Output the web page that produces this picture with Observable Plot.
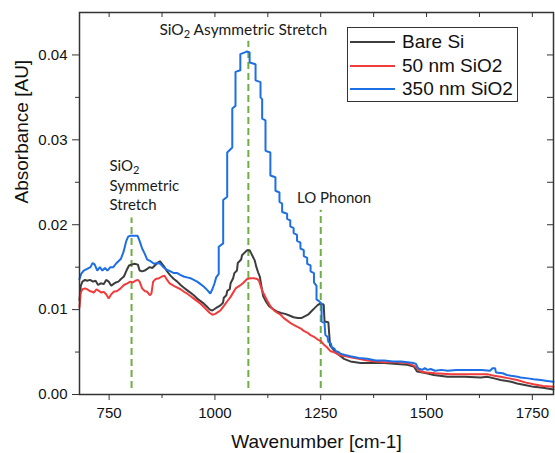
<!DOCTYPE html>
<html>
<head>
<meta charset="utf-8">
<script src="https://cdn.jsdelivr.net/npm/d3@7"></script>
<script src="https://cdn.jsdelivr.net/npm/@observablehq/plot@0.6"></script>
<style>
  html, body { margin: 0; padding: 0; background: #fff; }
  #wrap { position: relative; width: 555px; height: 453px; }
  #legend {
    position: absolute; left: 347px; top: 27px; width: 169px; height: 73px;
    border: 1.5px solid #333; background: #fff;
    font-family: "Liberation Sans", Arial, sans-serif; font-size: 19px; color: #111;
  }
  .row { position: absolute; left: 0; height: 24px; display: flex; align-items: center; }
  .sw { width: 45px; margin-left: 2px; margin-right: 7px; height: 0; border-top: 2px solid; }
</style>
</head>
<body>
<div id="wrap"><div id="legend"></div></div>
<script>
// ---- Series names and colours ----
const seriesNames = ["Bare Si", "50 nm SiO2", "350 nm SiO2"];
const seriesColors = ["#3d3d3d", "#f03c3c", "#1d6fe6"];

// ---- Spectra: [wavenumber (cm-1), absorbance (AU)] ----
const bareSi = [
  [680,0.0111],[683,0.0128],[687,0.0133],[693,0.0135],[698,0.0134],[705,0.0135],[712,0.0133],
  [718,0.0134],[724,0.0129],[730,0.0131],[737,0.0130],[743,0.0135],[749,0.0133],[755,0.0128],
  [760,0.0130],[766,0.0132],[772,0.0133],[778,0.0136],[785,0.0139],[791,0.0146],[797,0.0152],
  [803,0.0153],[810,0.0154],[818,0.0153],[822,0.0146],[828,0.0145],[834,0.0146],[840,0.0148],
  [846,0.0150],[852,0.0149],[858,0.0152],[864,0.0155],[870,0.0157],[875,0.0154],[881,0.0150],
  [887,0.0145],[895,0.0140],[903,0.0136],[911,0.0133],[919,0.0129],[926,0.0126],[934,0.0123],
  [942,0.0120],[950,0.0117],[958,0.0113],[966,0.0110],[974,0.0107],[982,0.0103],[988,0.0100],
  [994,0.0099],[1000,0.0101],[1006,0.0103],[1013,0.0105],[1019,0.0108],[1021,0.0114],[1027,0.0117],
  [1029,0.0122],[1035,0.0124],[1037,0.0131],[1043,0.0137],[1046,0.0143],[1052,0.0146],[1054,0.0155],
  [1062,0.0159],[1064,0.0164],[1072,0.0168],[1076,0.0170],[1082,0.0170],[1086,0.0166],[1090,0.0162],
  [1094,0.0158],[1098,0.0150],[1102,0.0144],[1106,0.0139],[1110,0.0127],[1114,0.0116],[1120,0.0110],
  [1128,0.0104],[1136,0.0101],[1146,0.0098],[1156,0.0096],[1166,0.0095],[1176,0.0093],[1186,0.0091],
  [1196,0.0090],[1204,0.0090],[1212,0.0092],[1220,0.0094],[1228,0.0098],[1236,0.0102],[1242,0.0105],
  [1248,0.0107],[1257,0.0106],[1259,0.0086],[1268,0.0085],[1272,0.0058],[1280,0.0053],[1289,0.0048],
  [1297,0.0045],[1305,0.0042],[1320,0.0039],[1344,0.0037],[1370,0.0037],[1400,0.0037],[1430,0.0036],
  [1454,0.0035],[1470,0.0033],[1478,0.0027],[1500,0.0025],[1517,0.0023],[1550,0.0021],[1590,0.0021],
  [1628,0.0020],[1643,0.0021],[1660,0.0019],[1675,0.0017],[1700,0.0015],[1714,0.0013],[1735,0.0011],
  [1753,0.0009],[1775,0.0008],[1800,0.0006]
];
const sio2_50nm = [
  [680,0.0103],[683,0.0120],[687,0.0124],[693,0.0125],[698,0.0124],[704,0.0122],[710,0.0121],
  [714,0.0120],[720,0.0124],[726,0.0122],[732,0.0120],[737,0.0121],[743,0.0118],[749,0.0113],
  [755,0.0118],[761,0.0121],[769,0.0122],[777,0.0125],[785,0.0129],[793,0.0131],[800,0.0133],
  [806,0.0132],[812,0.0134],[818,0.0135],[822,0.0133],[828,0.0125],[834,0.0122],[840,0.0121],
  [846,0.0117],[850,0.0119],[854,0.0133],[860,0.0136],[868,0.0137],[875,0.0139],[881,0.0140],
  [887,0.0135],[893,0.0131],[903,0.0128],[911,0.0126],[919,0.0124],[927,0.0121],[934,0.0119],
  [942,0.0116],[950,0.0113],[958,0.0110],[966,0.0107],[974,0.0103],[982,0.0099],[988,0.0096],
  [994,0.0094],[1001,0.0095],[1007,0.0097],[1013,0.0099],[1019,0.0103],[1025,0.0107],[1031,0.0111],
  [1037,0.0115],[1043,0.0120],[1049,0.0125],[1055,0.0127],[1061,0.0129],[1068,0.0132],[1076,0.0136],
  [1084,0.0137],[1092,0.0137],[1100,0.0136],[1104,0.0134],[1108,0.0128],[1112,0.0122],[1118,0.0116],
  [1124,0.0110],[1131,0.0104],[1140,0.0099],[1148,0.0096],[1155,0.0094],[1163,0.0090],[1171,0.0087],
  [1179,0.0084],[1186,0.0082],[1194,0.0080],[1202,0.0078],[1210,0.0075],[1218,0.0073],[1226,0.0070],
  [1234,0.0068],[1242,0.0065],[1250,0.0063],[1257,0.0059],[1264,0.0056],[1273,0.0051],[1281,0.0050],
  [1289,0.0048],[1297,0.0046],[1310,0.0045],[1320,0.0044],[1340,0.0042],[1360,0.0040],[1380,0.0039],
  [1400,0.0038],[1430,0.0038],[1454,0.0037],[1470,0.0034],[1478,0.0031],[1486,0.0027],[1500,0.0026],
  [1520,0.0025],[1557,0.0024],[1600,0.0024],[1643,0.0024],[1660,0.0022],[1675,0.0021],[1695,0.0019],
  [1714,0.0017],[1735,0.0014],[1753,0.0012],[1775,0.0010],[1800,0.0009]
];
const sio2_350nm = [
  [680,0.0136],[684,0.0142],[690,0.0146],[698,0.0148],[706,0.0150],[711,0.0155],[716,0.0153],
  [722,0.0146],[728,0.0150],[734,0.0146],[740,0.0149],[746,0.0146],[753,0.0150],[760,0.0150],
  [766,0.0154],[772,0.0157],[778,0.0160],[784,0.0168],[790,0.0180],[795,0.0186],[800,0.0187],
  [808,0.0187],[817,0.0187],[822,0.0181],[828,0.0172],[834,0.0166],[840,0.0159],[848,0.0157],
  [856,0.0154],[864,0.0155],[871,0.0154],[878,0.0150],[886,0.0147],[895,0.0145],[903,0.0143],
  [911,0.0143],[918,0.0141],[926,0.0139],[934,0.0138],[942,0.0137],[950,0.0135],[958,0.0133],
  [966,0.0130],[974,0.0127],[982,0.0123],[989,0.0119],[994,0.0124],[999,0.0131],[1003,0.0138],
  [1009,0.0142],[1009,0.0174],[1019.5,0.0178],[1019.5,0.0229],[1029,0.0233],[1029,0.0285],
  [1041,0.0291],[1041,0.0337],[1048.6,0.0340],[1048.6,0.0380],[1060,0.0382],[1060,0.0401],
  [1070.7,0.0403],[1076,0.0404],[1082,0.0403],[1082,0.0391],[1096,0.0389],[1096,0.0370],
  [1107.7,0.0368],[1107.7,0.0350],[1111.6,0.0348],[1111.6,0.0325],[1119.5,0.0323],[1119.5,0.0287],
  [1131,0.0285],[1131,0.0258],[1143,0.0256],[1143,0.0240],[1152.5,0.0238],[1152.5,0.0227],
  [1158.8,0.0225],[1158.8,0.0215],[1170.6,0.0213],[1170.6,0.0207],[1178,0.0205],[1178,0.0198],
  [1186,0.0196],[1186,0.0190],[1194,0.0188],[1194,0.0181],[1202,0.0179],[1202,0.0172],[1210,0.0170],
  [1210,0.0163],[1218,0.0161],[1218,0.0154],[1226,0.0152],[1226,0.0145],[1234,0.0143],[1234,0.0132],
  [1240,0.0128],[1240,0.0112],[1246,0.0110],[1252,0.0107],[1252,0.0086],[1259,0.0084],[1261,0.0070],
  [1266,0.0068],[1268,0.0062],[1274,0.0060],[1276,0.0056],[1282,0.0054],[1286,0.0051],[1292,0.0050],
  [1297,0.0048],[1305,0.0047],[1320,0.0045],[1340,0.0043],[1360,0.0042],[1380,0.0040],[1400,0.0040],
  [1420,0.0039],[1440,0.0039],[1455,0.0038],[1470,0.0037],[1475,0.0036],[1480,0.0031],[1490,0.0029],
  [1496,0.0031],[1502,0.0029],[1510,0.0030],[1520,0.0028],[1535,0.0029],[1550,0.0028],[1570,0.0029],
  [1590,0.0029],[1610,0.0029],[1630,0.0029],[1650,0.0028],[1656,0.0031],[1662,0.0031],[1664,0.0026],
  [1680,0.0025],[1690,0.0023],[1700,0.0022],[1715,0.0021],[1722,0.0020],[1740,0.0019],[1753,0.0018],
  [1770,0.0017],[1785,0.0016],[1800,0.0015]
];

// ---- Peak markers (wavenumber, top of dashed line in AU) ----
const peakWavenumbers = [803, 1079, 1250];
const peakLineTops = [0.0208, 0.0416, 0.0217];

// ---- Annotation texts (anchored in data units) ----
const annotationTexts = ["SiO₂ Asymmetric Stretch", "SiO₂", "Symmetric", "Stretch", "LO Phonon"];
const annotationX = [1067, 751, 751, 751, 1194];
const annotationY = [0.0429, 0.0269, 0.02455, 0.0223, 0.0231];
const annotationAnchor = ["middle", "start", "start", "start", "start"];

// ---- Axis ticks and titles ----
const xMajorTicks = [750, 1000, 1250, 1500, 1750];
const xMinorTicks = [875, 1125, 1375, 1625];
const xFrameTicks = [750, 875, 1000, 1125, 1250, 1375, 1500, 1625, 1750];
const yMajorTicks = [0, 0.01, 0.02, 0.03, 0.04];
const yMinorTicks = [0.005, 0.015, 0.025, 0.035];
const yFrameTicks = [0.005, 0.01, 0.015, 0.02, 0.025, 0.03, 0.035, 0.04];
const xTitle = "Wavenumber [cm-1]";
const yTitle = "Absorbance [AU]";

const series = [bareSi, sio2_50nm, sio2_350nm].map((pts, i) =>
  pts.map(([w, a]) => ({w, a, name: seriesNames[i]})));
const peaks = peakWavenumbers.map((w, i) => ({w, top: peakLineTops[i]}));
const annotations = annotationTexts.map((t, i) => ({t, x: annotationX[i], y: annotationY[i], anchor: annotationAnchor[i]}));

const W = 555, H = 453, ML = 79, MR = 2, MT = 12, MB = 59;
const frameW = W - ML - MR, frameH = H - MT - MB;
const axisColor = "#333";
const green = "#6fad46";
const blank = () => "";

const chart = Plot.plot({
  width: W, height: H,
  marginLeft: ML, marginRight: MR, marginTop: MT, marginBottom: MB,
  x: {domain: [680, 1800]},
  y: {domain: [0, 0.045]},
  style: {fontFamily: "'Liberation Sans', Arial, sans-serif", fontSize: "15px", color: "#111", background: "#fff", overflow: "visible"},
  marks: [
    Plot.ruleX(peaks, {x: "w", y1: 0.0007, y2: "top", stroke: green, strokeWidth: 2, strokeDasharray: "7,4"}),
    ...series.map((d, i) => Plot.line(d, {x: "w", y: "a", stroke: seriesColors[i], strokeWidth: 2, strokeLinejoin: "miter"})),
    Plot.text(annotations.filter(d => d.anchor === "middle"), {x: "x", y: "y", text: "t", textAnchor: "middle", fontFamily: "Lato, 'Open Sans', sans-serif", fontSize: 15.5, fill: "#1a1a1a"}),
    Plot.text(annotations.filter(d => d.anchor === "start"), {x: "x", y: "y", text: "t", textAnchor: "start", fontFamily: "Lato, 'Open Sans', sans-serif", fontSize: 15, fill: "#1a1a1a"}),
    Plot.axisX(xMajorTicks, {anchor: "bottom", tickSize: 6, tickPadding: 7, tickFormat: d3.format("d"), stroke: axisColor, fontSize: 15, label: null}),
    Plot.axisX(xMinorTicks, {anchor: "bottom", tickSize: 4, tickFormat: blank, stroke: axisColor, label: null}),
    // inward ticks on the top edge of the frame
    Plot.tickX(xFrameTicks, {x: d => d, insetBottom: frameH - 5, stroke: axisColor, strokeWidth: 1}),
    Plot.axisY(yMajorTicks, {anchor: "left", tickSize: 7, tickPadding: 5, tickFormat: d3.format(".2f"), stroke: axisColor, fontSize: 15, label: null}),
    Plot.axisY(yMinorTicks, {anchor: "left", tickSize: 4, tickFormat: blank, stroke: axisColor, label: null}),
    // inward ticks on the right edge of the frame
    Plot.tickY(yFrameTicks, {y: d => d, insetLeft: frameW - 6, stroke: axisColor, strokeWidth: 1}),
    Plot.frame({stroke: axisColor, strokeWidth: 1.5}),
    Plot.text([xTitle], {frameAnchor: "bottom", dy: 53, fontSize: 19, fill: "#111"}),
    Plot.text([yTitle], {frameAnchor: "left", rotate: -90, dx: -58, fontSize: 19, fill: "#111"})
  ]
});

// render chemical subscripts (SiO₂) as a lowered, smaller "2"
chart.querySelectorAll("text").forEach(node => {
  if (!node.textContent.includes("₂")) return;
  const parts = node.textContent.split("₂");
  while (node.firstChild) node.removeChild(node.firstChild);
  parts.forEach((p, i) => {
    if (i > 0) {
      const sub = document.createElementNS("http://www.w3.org/2000/svg", "tspan");
      sub.setAttribute("dy", "3");
      sub.setAttribute("font-size", "11");
      sub.textContent = "2";
      node.appendChild(sub);
      const rest = document.createElementNS("http://www.w3.org/2000/svg", "tspan");
      rest.setAttribute("dy", "-3");
      rest.textContent = p;
      node.appendChild(rest);
    } else {
      node.appendChild(document.createTextNode(p));
    }
  });
});

const wrap = document.getElementById("wrap");
wrap.insertBefore(chart, wrap.firstChild);

// legend
const legend = document.getElementById("legend");
const rowTops = [2, 26, 49];
seriesNames.forEach((name, i) => {
  const row = document.createElement("div");
  row.className = "row";
  row.style.top = rowTops[i] + "px";
  const sw = document.createElement("span");
  sw.className = "sw";
  sw.style.borderTopColor = seriesColors[i];
  const label = document.createElement("span");
  label.textContent = name;
  row.appendChild(sw);
  row.appendChild(label);
  legend.appendChild(row);
});
</script>
</body>
</html>
